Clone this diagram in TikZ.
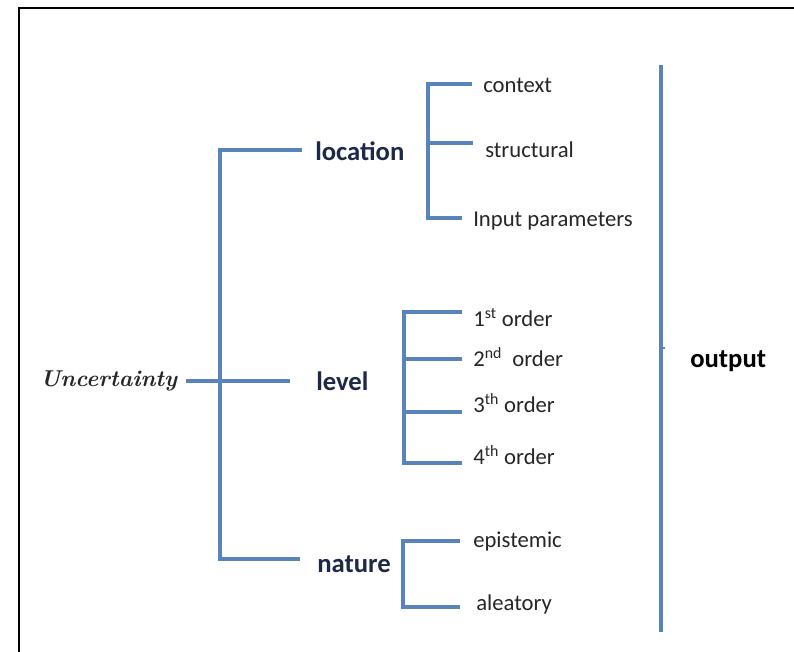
\documentclass[tikz,border=0pt]{standalone}
\usepackage{fontspec}
\setmainfont{Carlito}
\newfontfamily\handface{Latin Modern Roman}
\definecolor{linkblue}{RGB}{88,131,187}
\definecolor{navy}{RGB}{28,42,72}
\begin{document}
\begin{tikzpicture}[x=0.75pt,y=-0.75pt,
  branch/.style={draw=linkblue, line width=2.6pt},
  headword/.style={anchor=base west, inner sep=0pt, text=navy,
    font=\fontsize{20}{24}\selectfont\bfseries},
  leaf/.style={anchor=base west, inner sep=0pt, text=black!85,
    font=\fontsize{17}{20}\selectfont},
  rootword/.style={anchor=base west, inner sep=0pt, text=black!85,
    font=\handface\bfseries\itshape\fontsize{17.2}{21}\selectfont}]
\useasboundingbox (0,0) rectangle (794,652);
\fill[white] (0,0) rectangle (794,652);
% frame
\draw[line width=1.6pt, black] (19,652) -- (19,8) -- (794,8);

% texts
\node[rootword] (unc) at (40,387) {Uncertainty};
\node[headword] (loc) at (315,161) {location};
\node[headword] (lev) at (316,391) {level};
\node[headword] (nat) at (317,573) {nature};
\node[leaf] (ctx) at (483,93) {context};
\node[leaf] (str) at (485,158) {structural};
\node[leaf] (inp) at (473,227) {Input parameters};
\node[leaf] (o1) at (473,327) {1\textsuperscript{st} order};
\node[leaf] (o2) at (473,367) {2\textsuperscript{nd}\ \ order};
\node[leaf] (o3) at (473,413) {3\textsuperscript{th} order};
\node[leaf] (o4) at (473,465) {4\textsuperscript{th} order};
\node[leaf] (epi) at (473,548) {epistemic};
\node[leaf] (ale) at (476,611) {aleatory};
\node[headword, text=black] (out) at (690,368) {output};

% main tree
\coordinate (rootL) at (186,381);
\coordinate (rootR) at (290,381);
\coordinate (spineT) at (220,150);
\coordinate (spineB) at (220,559);
\coordinate (locE) at (302,150);
\coordinate (natE) at (300,559);
\draw[branch] (locE) -- (spineT) -- (spineB) -- (natE);
\draw[branch] (rootL) -- (rootR);

% location bracket
\coordinate (lsT) at (428,84);
\coordinate (lsB) at (428,218);
\coordinate (lsM) at (428,143);
\coordinate (ctxE) at (472,84);
\coordinate (strE) at (473,143);
\coordinate (inpE) at (462,218);
\draw[branch] (ctxE) -- (lsT) -- (lsB) -- (inpE);
\draw[branch] (lsM) -- (strE);

% level bracket
\coordinate (vsT) at (404,312);
\coordinate (vsB) at (404,463);
\coordinate (vs2) at (404,359);
\coordinate (vs3) at (404,412);
\coordinate (o1E) at (462,312);
\coordinate (o2E) at (462,359);
\coordinate (o3E) at (462,412);
\coordinate (o4E) at (462,463);
\draw[branch] (o1E) -- (vsT) -- (vsB) -- (o4E);
\draw[branch] (vs2) -- (o2E);
\draw[branch] (vs3) -- (o3E);

% nature bracket
\coordinate (nsT) at (403,541);
\coordinate (nsB) at (403,607);
\coordinate (epiE) at (460,541);
\coordinate (aleE) at (460,607);
\draw[branch] (epiE) -- (nsT) -- (nsB) -- (aleE);

% output bar
\coordinate (barT) at (661,65);
\coordinate (barB) at (661,632);
\coordinate (barM) at (661,348);
\coordinate (barTick) at (665,348);
\draw[branch] (barT) -- (barB);
\draw[draw=linkblue, line width=1pt] (barM) -- (barTick);
\end{tikzpicture}
\end{document}
